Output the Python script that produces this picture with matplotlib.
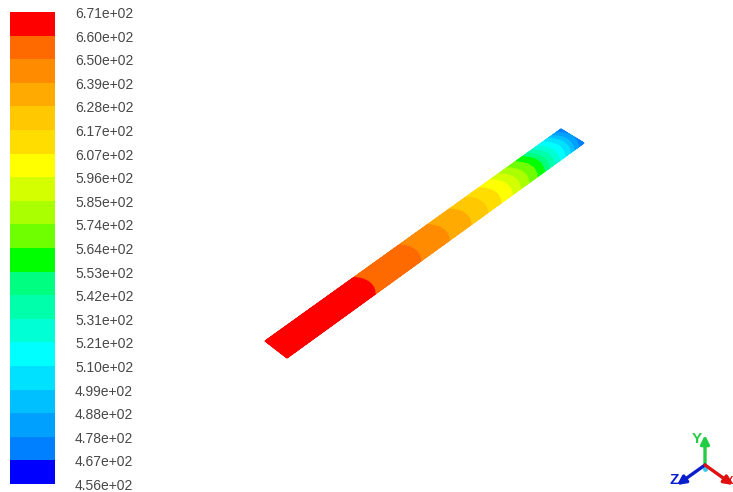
import numpy as np
import matplotlib
matplotlib.use("Agg")
import matplotlib.pyplot as plt
from matplotlib.colors import ListedColormap, BoundaryNorm

# Contour levels, low to high (tick labels of the colour bar)
level_labels = ["4.56e+02", "4.67e+02", "4.78e+02", "4.88e+02", "4.99e+02", "5.10e+02", "5.21e+02",
                "5.31e+02", "5.42e+02", "5.53e+02", "5.64e+02", "5.74e+02", "5.85e+02", "5.96e+02",
                "6.07e+02", "6.17e+02", "6.28e+02", "6.39e+02", "6.50e+02", "6.60e+02", "6.71e+02"]
band_colors = ["#0000ff", "#0080ff", "#00a0ff", "#00c0ff", "#00e0ff", "#00ffff", "#00ffd4", "#00ffaa",
               "#00ff80", "#00ff00", "#70ff00", "#aaff00", "#d4ff00", "#ffff00", "#ffdd00", "#ffc800",
               "#ffaa00", "#ff8c00", "#ff6a00", "#ff0000"]
levels = [float(s) for s in level_labels]

# Strip geometry (screen pixels): the hot end, and the cold end
hot_end = ((265, 341), (287, 358))
cold_end = ((561, 129), (584, 143))
# Where each level meets the strip's edge (fraction of length), low to high
level_pos = [1.04, 1.005, 0.985, 0.97, 0.957, 0.94, 0.92, 0.902, 0.885, 0.869, 0.846, 0.818, 0.79,
             0.762, 0.723, 0.678, 0.622, 0.549, 0.453, 0.30, -0.10]
bulge = 0.016

# Layout (screen pixels)
bar_left, bar_right, bar_top, bar_bottom = 10, 55, 12, 484
label_x = 75
triad_origin = (705, 465)
triad_tips = {"Y": (705, 435), "Z": (677, 485), "X": (733, 485)}
triad_colors = {"Y": "#22cc44", "Z": "#0a1ecc", "X": "#e01010"}
triad_text = {"Y": (697, 439), "Z": (674, 480)}
x_label_right = (733, 481)

plt.rcParams["font.family"] = ["Liberation Sans", "DejaVu Sans"]
fig = plt.figure(figsize=(7.33, 4.92), dpi=100)
ax = fig.add_axes([0, 0, 1, 1])
ax.set_xlim(0, 733)
ax.set_ylim(492, 0)
ax.axis("off")

cmap = ListedColormap(band_colors)
norm = BoundaryNorm(levels, cmap.N)

# Colour bar
ys = np.linspace(bar_bottom, bar_top, len(levels))
ax.pcolormesh([bar_left, bar_right], ys, np.array(levels[:-1])[:, None] + 0.01, cmap=cmap, norm=norm)
for y, lab in zip(ys, level_labels):
    ax.text(label_x, y + 2, lab, fontsize=10, color="#484848", va="center", ha="left")

# Strip field
u = np.linspace(0, 1, 900)
v = np.linspace(0, 1, 60)
U, V = np.meshgrid(u, v)
order = np.argsort(level_pos)
T = np.interp(U + bulge * ((2 * V - 1) ** 2 - 1), np.array(level_pos)[order], np.array(levels)[order])
a0, b0 = np.array(hot_end[0], float), np.array(hot_end[1], float)
a1, b1 = np.array(cold_end[0], float), np.array(cold_end[1], float)
P0 = a0[None, None, :] * (1 - V[..., None]) + b0[None, None, :] * V[..., None]
P1 = a1[None, None, :] * (1 - V[..., None]) + b1[None, None, :] * V[..., None]
P = P0 * (1 - U[..., None]) + P1 * U[..., None]
ax.pcolormesh(P[..., 0], P[..., 1], T, cmap=cmap, norm=norm, shading="gouraud", rasterized=True)

# Axis triad
for name, tip in triad_tips.items():
    ax.annotate("", xy=tip, xytext=triad_origin, annotation_clip=False,
                arrowprops=dict(arrowstyle="-|>,head_width=0.25,head_length=0.5", lw=2.4,
                                color=triad_colors[name], shrinkA=0, shrinkB=0))
for name, pos in triad_text.items():
    ax.text(*pos, name, color=triad_colors[name], fontsize=11, fontweight="bold", ha="center", va="center")
ax.text(*x_label_right, "X", color=triad_colors["X"], fontsize=8, fontweight="bold", ha="right", va="center")
ax.plot(triad_origin[0], triad_origin[1] + 4, "o", ms=3.5, color="#33ccee", mec="none")

fig.savefig("out.png", dpi=100)
